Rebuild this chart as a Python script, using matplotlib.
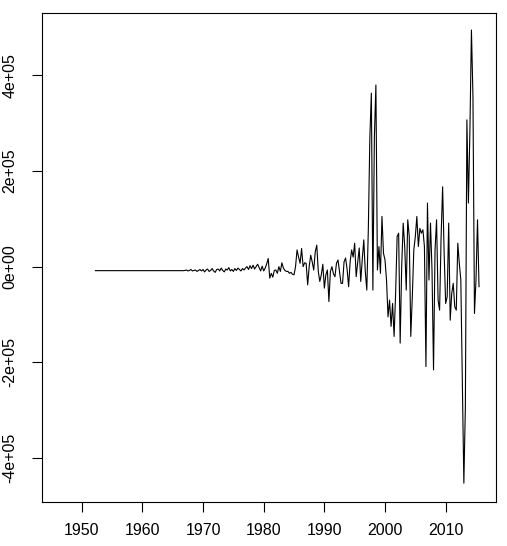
import numpy as np
import matplotlib
matplotlib.use("Agg")
import matplotlib.pyplot as plt

# Quarterly series (values in thousands), starting 1952 Q2
start_year = 1952.25
vals_1952_1966 = [-8.4] * 59
vals_1967_1979 = [-8, -7, -9, -8, -6, -9, -8, -7, -10, -8, -6, -9,
                  -6, -11, -7, -5, -10, -8, -4, -9, -12, -6, -5, -9,
                  -3, -8, -11, -5, -7, -2, -9, -6, -10, -4, -8, -3,
                  -6, -9, -4, -7, -3, 0, -6, 2, -4, 3, -5, 0,
                  5, -2, -9, 1]
vals_1980_1989 = [-9, -3, 6, 17, -24, -14, -22, -8, -7, -14, 0, -10,
                  8, -3, -8, -10, -10, -14, -12, -16, -17, 0, 35, 20,
                  7, 38, 0, 8, 7, -38, 0, 24, 10, -7, 31, 45,
                  -10, -31, -17, 5]
vals_1990_1999 = [-45, -17, -7, -73, -10, 0, -15, -21, 7, 14, -10, -35,
                  -35, 10, 18, -5, -42, 10, 35, 20, 49, -21, 10, 39,
                  -31, 15, 56, -10, -49, 77, 269, 363, -49, 272, 380, -7,
                  42, -14, 105, 28]
vals_2000_2009 = [14, -28, -105, -70, -125, -77, -146, -56, 63, 70, -160, 0,
                  91, 42, -49, 98, 63, -146, -63, 35, 63, 105, 42, 80,
                  70, 77, 42, -209, 133, -28, 91, -7, -216, 35, 98, -70,
                  -91, 63, 167, 28]
vals_2010_2015 = [-77, -63, 91, -112, -56, -35, -84, -91, 49, 7, -28, -237,
                  -453, -293, 307, 133, 286, 495, 356, -98, -28, 98, -42]

values = np.array(vals_1952_1966 + vals_1967_1979 + vals_1980_1989 +
                  vals_1990_1999 + vals_2000_2009 + vals_2010_2015) * 1000.0
time = start_year + 0.25 * np.arange(len(values))

x_ticks = [1950, 1960, 1970, 1980, 1990, 2000, 2010]
y_ticks = [-4e5, -2e5, 0, 2e5, 4e5]
y_labels = ["-4e+05", "-2e+05", "0e+00", "2e+05", "4e+05"]

plt.rcParams['font.family'] = ['Liberation Sans', 'DejaVu Sans']
fig = plt.figure(figsize=(5.07, 5.46), dpi=100)
ax = fig.add_axes([42.3 / 507, 1 - 502.3 / 546, (496 - 42.3) / 507, (502.3 - 13.3) / 546])
ax.plot(time, values, color='black', linewidth=0.8)
ax.set_xlim(1943.5, 2018.3)
ax.set_ylim(-4.93e5, 5.30e5)
ax.set_xticks(x_ticks)
ax.set_xticklabels([str(t) for t in x_ticks])
ax.set_yticks(y_ticks)
ax.set_yticklabels(y_labels, rotation=90, va='center')
ax.tick_params(axis='both', direction='out', length=7.2, width=0.8,
               labelsize=11.5, colors='black')
ax.tick_params(axis='x', pad=7.5)
ax.tick_params(axis='y', pad=10.5)
for s in ax.spines.values():
    s.set_linewidth(0.8)
    s.set_color('black')
fig.savefig("out.png", dpi=100)
